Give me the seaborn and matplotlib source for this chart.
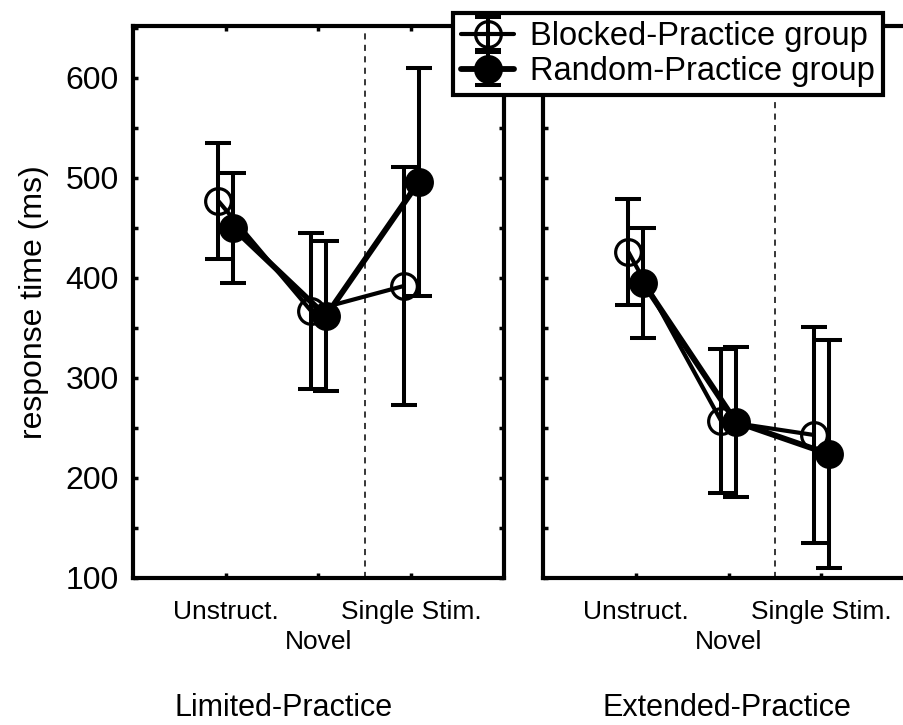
import numpy as np
import matplotlib
matplotlib.use("Agg")
import matplotlib.pyplot as plt
import seaborn as sns
from matplotlib.legend_handler import HandlerTuple

# ---- data ----
categories = ["Unstruct.", "Novel", "Single Stim."]
tick_labels = ["Unstruct.", "\nNovel", "Single Stim."]
panels = ["Limited-Practice", "Extended-Practice"]
groups = ["Blocked-Practice group", "Random-Practice group"]

limited_blocked = [477, 367, 392]
limited_blocked_err = [58, 78, 119]
limited_random = [450, 362, 496]
limited_random_err = [55, 75, 114]

extended_blocked = [426, 257, 243]
extended_blocked_err = [53, 72, 108]
extended_random = [395, 256, 224]
extended_random_err = [55, 75, 114]

y_ticks = [100, 200, 300, 400, 500, 600]

sns.set_theme(style="ticks")
plt.rcParams["font.family"] = ["Liberation Sans", "DejaVu Sans"]
for k in ["text.color", "axes.labelcolor", "xtick.color", "ytick.color", "axes.edgecolor"]:
    plt.rcParams[k] = "black"

fig = plt.figure(figsize=(9.04, 7.25), dpi=100)
ax_w, ax_h = 0.4104, 0.7614
ax1 = fig.add_axes([0.1471, 0.2028, ax_w, ax_h])
ax2 = fig.add_axes([0.6007, 0.2028, ax_w, ax_h])

data = {
    0: [(limited_blocked, limited_blocked_err), (limited_random, limited_random_err)],
    1: [(extended_blocked, extended_blocked_err), (extended_random, extended_random_err)],
}
styles = [
    dict(mfc="none", lw=3.0, offset=-0.08),
    dict(mfc="black", lw=4.2, offset=0.08),
]

handles = []
for i, ax in enumerate([ax1, ax2]):
    base = np.arange(1, len(categories) + 1)
    for g, ((vals, errs), st) in enumerate(zip(data[i], styles)):
        x = base + st["offset"]
        eb = ax.errorbar(x, vals, yerr=errs, fmt="none", ecolor="black",
                         elinewidth=2.9, capsize=9.5, capthick=2.9, zorder=2 + g)
        sns.lineplot(x=x, y=vals, ax=ax, color="black", lw=st["lw"], sort=False,
                     errorbar=None, legend=False, marker="o", markersize=18.5,
                     markerfacecolor=st["mfc"], markeredgecolor="black",
                     markeredgewidth=2.3, zorder=3 + g)
        if i == 0:
            handles.append((ax.lines[-1], eb))
    ax.axvline(2.5, color="black", lw=1.1, ls=(0, (4, 3.5)), zorder=1)
    ax.set_xlim(0, 4)
    ax.set_ylim(100, 652)
    ax.set_xticks(base)
    ax.set_xticklabels(tick_labels, fontsize=19, linespacing=1.3)
    ax.set_yticks(np.arange(100, 651, 50), minor=False)
    ax.set_yticklabels([str(v) if v in y_ticks else "" for v in np.arange(100, 651, 50)],
                       fontsize=23)
    for s in ax.spines.values():
        s.set_linewidth(3.0)
        s.set_color("black")
    ax.tick_params(axis="both", direction="in", length=3.5, width=2.5, color="black",
                   top=True, right=True)
    ax.tick_params(axis="x", pad=16)
    ax.tick_params(axis="y", pad=10)
    ax.set_xlabel("")
    ax.set_ylabel("")
    ax.set_facecolor("white")

ax2.set_yticklabels([])
ax1.set_ylabel("response time (ms)", fontsize=23, labelpad=12)

fig.text(284 / 904, 1 - 716 / 725, panels[0], fontsize=22, ha="center", va="baseline")
fig.text(727 / 904, 1 - 716 / 725, panels[1], fontsize=22, ha="center", va="baseline")

leg = fig.legend(handles, groups, loc="upper right",
                 bbox_to_anchor=(883 / 904, 1 - 13 / 725), borderaxespad=0,
                 fontsize=23.5, frameon=True, fancybox=False, framealpha=1,
                 edgecolor="black", handlelength=1.6, handletextpad=0.5,
                 borderpad=0.25, labelspacing=0.12,
                 handler_map={tuple: HandlerTuple(ndivide=1, pad=0)})
leg.get_frame().set_linewidth(3.0)

fig.savefig("out.png", dpi=100)
